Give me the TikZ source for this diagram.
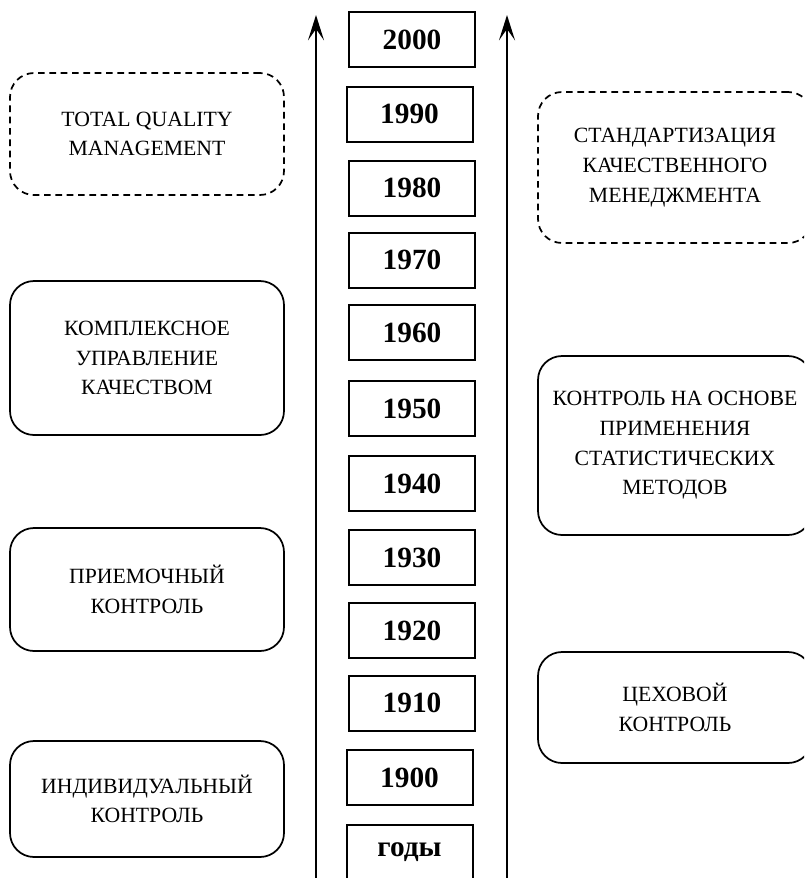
\documentclass[tikz,border=0pt]{standalone}
\usepackage{fontspec}
\setmainfont{Liberation Serif}
\usetikzlibrary{arrows.meta}
\begin{document}
\begin{tikzpicture}[x=0.75pt,y=-0.75pt,
  yearbox/.style={draw, line width=1.5pt, minimum width=94.5pt, minimum height=41.25pt, inner sep=0pt, font=\fontsize{22}{26}\selectfont\bfseries},
  stage/.style={draw, line width=1.3pt, rounded corners=18pt, minimum width=205.5pt, inner sep=0pt, align=center, font=\fontsize{16.3}{22.3}\selectfont},
  dstage/.style={stage, dash pattern=on 5pt off 3.5pt},
  axis/.style={line width=1.8pt, -{Stealth[length=19pt,width=12pt,inset=8.5pt]}}]
\clip (0,0) rectangle (804,878);
% year column
\node[yearbox] (y2000) at (412,39.5) {2000};
\node[yearbox] (y1990) at (409.5,114) {1990};
\node[yearbox] (y1980) at (412,188) {1980};
\node[yearbox] (y1970) at (412,260) {1970};
\node[yearbox] (y1960) at (412,332.5) {1960};
\node[yearbox] (y1950) at (412,408.5) {1950};
\node[yearbox] (y1940) at (412,483.5) {1940};
\node[yearbox] (y1930) at (412,557.5) {1930};
\node[yearbox] (y1920) at (412,630.5) {1920};
\node[yearbox] (y1910) at (412,703) {1910};
\node[yearbox] (y1900) at (409.5,777.5) {1900};
\node[yearbox] (ygody) at (409.5,852.5) {годы};
% axes
\coordinate (la0) at (316,882);
\coordinate (la1) at (316,15);
\coordinate (ra0) at (507,882);
\coordinate (ra1) at (507,15);
\draw[axis] (la0) -- (la1);
\draw[axis] (ra0) -- (ra1);
% left stages
\node[dstage, minimum height=91.5pt] (tqm) at (147,134) {TOTAL QUALITY\\MANAGEMENT};
\node[stage, minimum height=115.5pt] (kuk) at (147,358) {КОМПЛЕКСНОЕ\\УПРАВЛЕНИЕ\\КАЧЕСТВОМ};
\node[stage, minimum height=92.25pt] (pk) at (147,589.5) {ПРИЕМОЧНЫЙ\\КОНТРОЛЬ};
\node[stage, minimum height=87pt] (ik) at (147,799) {ИНДИВИДУАЛЬНЫЙ\\КОНТРОЛЬ};
% right stages
\node[dstage, minimum height=113.25pt] (skm) at (675,167.5) {СТАНДАРТИЗАЦИЯ\\КАЧЕСТВЕННОГО\\МЕНЕДЖМЕНТА};
\node[stage, minimum height=134.25pt] (ksm) at (675,445.5) {КОНТРОЛЬ НА ОСНОВЕ\\ПРИМЕНЕНИЯ\\СТАТИСТИЧЕСКИХ\\МЕТОДОВ};
\node[stage, minimum height=83.25pt] (ck) at (675,707.5) {ЦЕХОВОЙ\\КОНТРОЛЬ};
\end{tikzpicture}
\end{document}
